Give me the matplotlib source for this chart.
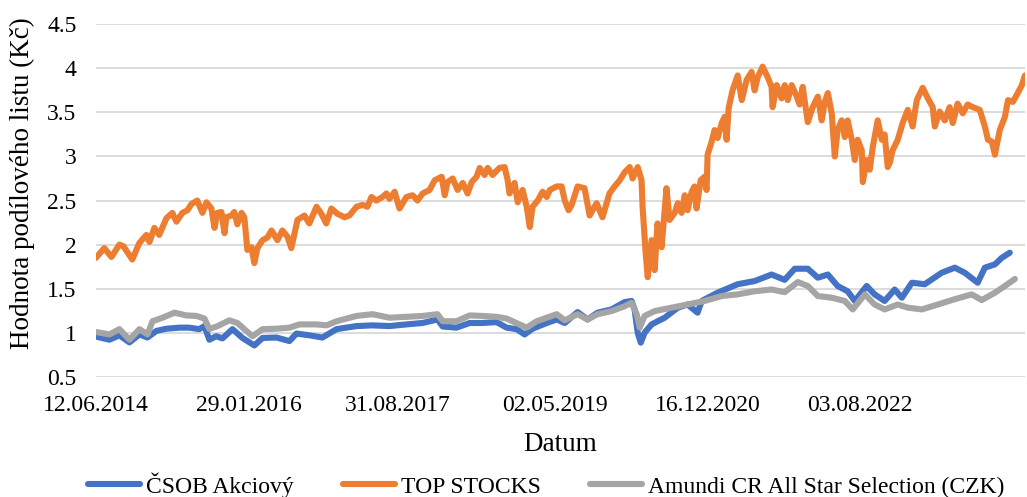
import matplotlib

matplotlib.use("Agg")

import matplotlib.pyplot as plt
import pandas as pd

START = "2014-06-12"

# days since START
csob_days = [1, 52, 91, 130, 169, 200, 235, 274, 324, 363, 402, 422, 441, 468, 492, 531, 570, 597, 616, 648,
             702, 753, 780, 831, 881, 936, 1014, 1076, 1142, 1208, 1271, 1329, 1349, 1403, 1454, 1504, 1559,
             1598, 1637, 1668, 1699, 1754, 1793, 1824, 1874, 1913, 1952, 2006, 2057, 2084, 2096, 2108, 2120,
             2135, 2162, 2213, 2264, 2302, 2341, 2357, 2419, 2497, 2563, 2629, 2680, 2719, 2770, 2809, 2848,
             2886, 2925, 2953, 2999, 3030, 3069, 3108, 3136, 3175, 3225, 3291, 3342, 3381, 3431, 3459, 3498,
             3525, 3556]
csob_vals = [0.955, 0.92, 0.97, 0.89, 0.98, 0.945, 1.02, 1.045, 1.057, 1.057, 1.04, 1.075, 0.92, 0.96, 0.935,
             1.04, 0.94, 0.89, 0.855, 0.94, 0.945, 0.905, 0.99, 0.97, 0.945, 1.04, 1.075, 1.083, 1.075, 1.094,
             1.11, 1.15, 1.07, 1.057, 1.11, 1.11, 1.12, 1.057, 1.04, 0.98, 1.045, 1.11, 1.15, 1.11, 1.234, 1.15,
             1.227, 1.264, 1.347, 1.36, 1.264, 1.0, 0.887, 1.0, 1.094, 1.17, 1.284, 1.32, 1.227, 1.36, 1.454,
             1.55, 1.586, 1.66, 1.6, 1.726, 1.726, 1.624, 1.66, 1.53, 1.47, 1.36, 1.53, 1.435, 1.36, 1.49,
             1.397, 1.567, 1.55, 1.68, 1.738, 1.68, 1.567, 1.738, 1.775, 1.85, 1.908]

top_days = [0, 32, 60, 91, 107, 141, 169, 196, 208, 227, 246, 274, 297, 313, 336, 356, 371, 394, 414, 430,
            449, 461, 472, 488, 500, 507, 527, 538, 550, 566, 577, 589, 605, 616, 628, 648, 667, 683, 706, 725,
            745, 760, 784, 811, 830, 858, 877, 896, 916, 939, 967, 986, 1014, 1037, 1056, 1072, 1091, 1115,
            1130, 1142, 1162, 1181, 1208, 1232, 1251, 1271, 1298, 1318, 1345, 1357, 1368, 1388, 1407, 1427,
            1446, 1462, 1481, 1493, 1512, 1524, 1543, 1570, 1590, 1602, 1609, 1629, 1641, 1660, 1676, 1688,
            1699, 1719, 1738, 1754, 1766, 1793, 1812, 1824, 1839, 1851, 1874, 1901, 1921, 1948, 1971, 1998,
            2018, 2038, 2057, 2077, 2088, 2108, 2123, 2127, 2139, 2147, 2162, 2174, 2185, 2201, 2220, 2232,
            2252, 2264, 2279, 2291, 2302, 2318, 2329, 2337, 2353, 2368, 2376, 2380, 2396, 2407, 2419, 2435,
            2446, 2454, 2462, 2477, 2497, 2513, 2532, 2551, 2563, 2575, 2594, 2614, 2629, 2633, 2649, 2668,
            2680, 2692, 2707, 2727, 2738, 2750, 2770, 2789, 2809, 2824, 2836, 2848, 2863, 2875, 2886, 2902,
            2914, 2925, 2941, 2953, 2964, 2980, 2984, 2999, 3011, 3023, 3042, 3058, 3069, 3081, 3089, 3100,
            3120, 3139, 3159, 3178, 3194, 3217, 3237, 3256, 3264, 3283, 3303, 3322, 3334, 3353, 3373, 3392,
            3412, 3439, 3459, 3471, 3486, 3498, 3517, 3537, 3549, 3568, 3587, 3603, 3615]
top_vals = [1.85, 1.96, 1.86, 2.0, 1.98, 1.83, 2.02, 2.11, 2.03, 2.19, 2.11, 2.3, 2.36, 2.26, 2.36, 2.39, 2.46,
            2.5, 2.36, 2.48, 2.41, 2.19, 2.36, 2.37, 2.13, 2.31, 2.33, 2.37, 2.23, 2.36, 2.31, 1.94, 1.97, 1.79,
            1.96, 2.05, 2.08, 2.16, 2.05, 2.16, 2.09, 1.96, 2.28, 2.33, 2.24, 2.43, 2.35, 2.24, 2.41, 2.35, 2.31,
            2.33, 2.43, 2.45, 2.43, 2.54, 2.5, 2.54, 2.58, 2.52, 2.6, 2.41, 2.54, 2.56, 2.5, 2.58, 2.62, 2.73,
            2.77, 2.56, 2.71, 2.75, 2.62, 2.7, 2.58, 2.71, 2.77, 2.87, 2.79, 2.87, 2.79, 2.87, 2.88, 2.73, 2.58,
            2.7, 2.48, 2.62, 2.43, 2.2, 2.43, 2.5, 2.6, 2.54, 2.62, 2.66, 2.66, 2.5, 2.39, 2.45, 2.66, 2.64,
            2.33, 2.47, 2.31, 2.58, 2.66, 2.73, 2.82, 2.88, 2.75, 2.88, 2.73, 2.43, 1.9, 1.63, 2.05, 1.71, 2.24,
            1.97, 2.64, 2.28, 2.36, 2.47, 2.36, 2.56, 2.39, 2.6, 2.66, 2.41, 2.73, 2.77, 2.62, 3.02, 3.17, 3.3,
            3.21, 3.38, 3.45, 3.19, 3.55, 3.75, 3.92, 3.64, 3.87, 3.96, 3.75, 3.9, 4.02, 3.9, 3.79, 3.56, 3.81,
            3.66, 3.81, 3.64, 3.81, 3.68, 3.59, 3.79, 3.39, 3.56, 3.68, 3.41, 3.62, 3.72, 3.49, 3.0, 3.3, 3.41,
            3.22, 3.41, 3.19, 2.96, 3.19, 3.07, 2.71, 2.96, 2.85, 3.11, 3.41, 3.19, 3.25, 2.88, 2.93, 3.07,
            3.19, 3.38, 3.53, 3.34, 3.64, 3.78, 3.66, 3.56, 3.34, 3.51, 3.41, 3.56, 3.38, 3.6, 3.49, 3.59,
            3.56, 3.53, 3.34, 3.19, 3.17, 3.02, 3.3, 3.45, 3.64, 3.62, 3.72, 3.81, 3.92]

amundi_days = [1, 52, 91, 130, 169, 200, 220, 259, 305, 352, 391, 422, 441, 473, 519, 550, 585, 609, 648,
               702, 753, 792, 858, 897, 936, 1014, 1076, 1142, 1208, 1271, 1329, 1349, 1403, 1454, 1504,
               1559, 1598, 1648, 1676, 1715, 1793, 1824, 1874, 1913, 1952, 2006, 2057, 2084, 2104, 2116,
               2135, 2174, 2240, 2302, 2368, 2435, 2497, 2563, 2629, 2680, 2731, 2770, 2809, 2863, 2914,
               2945, 2992, 3030, 3069, 3120, 3159, 3214, 3276, 3342, 3408, 3447, 3498, 3537, 3576]
amundi_vals = [1.007, 0.98, 1.04, 0.92, 1.04, 0.98, 1.13, 1.17, 1.227, 1.196, 1.19, 1.16, 1.04, 1.075, 1.14,
               1.11, 1.02, 0.96, 1.04, 1.045, 1.057, 1.094, 1.094, 1.083, 1.13, 1.19, 1.21, 1.17, 1.18, 1.19,
               1.21, 1.13, 1.13, 1.196, 1.19, 1.18, 1.16, 1.094, 1.057, 1.13, 1.21, 1.14, 1.21, 1.15, 1.21,
               1.245, 1.3, 1.34, 1.21, 1.057, 1.19, 1.245, 1.284, 1.32, 1.36, 1.416, 1.435, 1.47, 1.49, 1.46,
               1.575, 1.53, 1.416, 1.397, 1.36, 1.264, 1.435, 1.32, 1.264, 1.32, 1.284, 1.264, 1.32, 1.38,
               1.435, 1.37, 1.454, 1.53, 1.61]

tick_labels = ["12.06.2014", "29.01.2016", "31.08.2017", "02.05.2019", "16.12.2020", "03.08.2022"]
y_ticks = [0.5, 1, 1.5, 2, 2.5, 3, 3.5, 4, 4.5]
y_tick_labels = ["0.5", "1", "1.5", "2", "2.5", "3", "3.5", "4", "4.5"]


def to_dates(days):
    return pd.Timestamp(START) + pd.to_timedelta(days, unit="D")


def main() -> None:
    plt.rcParams["font.family"] = ["Liberation Serif", "DejaVu Serif"]

    fig = plt.figure(figsize=(10.27, 4.97), dpi=100)
    ax = fig.add_axes([0.0935, 0.242, 0.9045, 0.709])

    style = dict(linewidth=4.4, solid_capstyle="round", solid_joinstyle="round")
    ax.plot(to_dates(csob_days), csob_vals, color="#4472C4", label="ČSOB Akciový", **style)
    ax.plot(to_dates(top_days), top_vals, color="#ED7D31", label="TOP STOCKS", **style)
    ax.plot(to_dates(amundi_days), amundi_vals, color="#A5A5A5",
            label="Amundi CR All Star Selection (CZK)", **style)

    ax.set_ylim(0.5, 4.5)
    ax.set_yticks(y_ticks)
    ax.set_yticklabels(y_tick_labels)
    ax.set_xlim(to_dates([0])[0], to_dates([top_days[-1]])[0])
    ax.set_xticks(pd.to_datetime(tick_labels, format="%d.%m.%Y"))
    ax.set_xticklabels(tick_labels)

    ax.grid(axis="y", color="#D9D9D9", linewidth=1.3)
    ax.set_axisbelow(True)
    for spine in ax.spines.values():
        spine.set_visible(False)
    ax.tick_params(axis="both", length=0, labelsize=17, colors="#000000")
    ax.tick_params(axis="y", pad=14)
    ax.tick_params(axis="x", pad=13)

    ax.set_xlabel("Datum", fontsize=19.5, labelpad=12)
    ax.set_ylabel("Hodnota podílového listu (Kč)", fontsize=19.5)
    ax.yaxis.set_label_coords(-0.066, 0.55)

    fig.legend(loc="center", bbox_to_anchor=(546 / 1027, 1 - 485 / 497), ncol=3, frameon=False,
               fontsize=17, handlelength=2.2, handletextpad=0.25, columnspacing=2.1)

    fig.savefig("out.png", dpi=100)
    plt.close(fig)


if __name__ == "__main__":
    main()
